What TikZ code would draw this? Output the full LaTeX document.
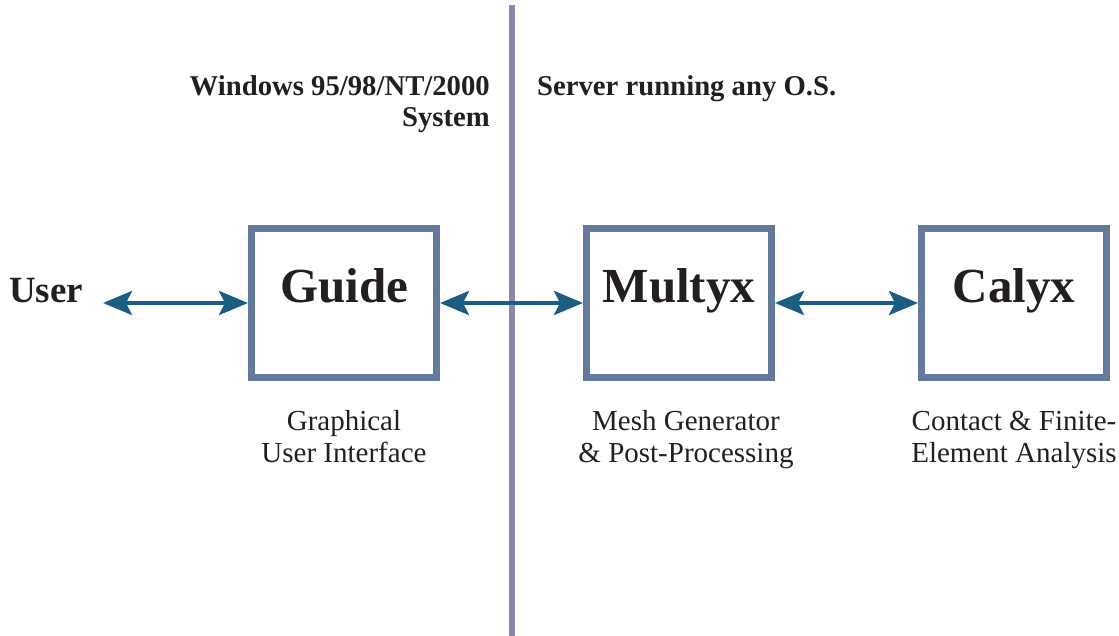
\documentclass[tikz,border=0pt]{standalone}
\usepackage{fontspec}
\setmainfont{Liberation Serif}
\usepackage{xcolor}
\usetikzlibrary{positioning,arrows.meta}

\definecolor{boxblue}{RGB}{100,122,155}
\definecolor{linkblue}{RGB}{27,94,130}
\definecolor{splitgray}{RGB}{139,135,176}
\definecolor{ink}{RGB}{35,31,32}

\begin{document}
\begin{tikzpicture}[x=1pt,y=-1pt,
  module/.style={draw=boxblue,line width=7pt,minimum width=185pt,minimum height=148pt,
    inner sep=0pt,text=ink,font=\fontsize{49}{49}\selectfont\bfseries,
    text height=24pt,text depth=24pt},
  caption/.style={text=ink,align=center,inner sep=0pt,anchor=base,
    font=\fontsize{29}{32}\selectfont},
  header/.style={text=ink,inner sep=0pt,font=\fontsize{28.7}{31}\selectfont\bfseries},
  link/.style={draw=linkblue,line width=4pt,
    {Stealth[length=29pt,width=24pt,inset=6pt]}-{Stealth[length=29pt,width=24pt,inset=6pt]}}]
  \useasboundingbox (0,0) rectangle (1119,636);
  % system split
  \draw[splitgray,line width=6pt] (512,5)--(512,636);
  \node[header,anchor=base east,align=right] (winhdr) at (490,127) {Windows 95/98/NT/2000\\System};
  \node[header,anchor=base west] (srvhdr) at (537,96) {Server running any O.S.};
  % modules
  \node[module] (guide) at (344,303) {Guide};
  \node[module,right=143pt of guide] (multyx) {Multyx};
  \node[module,right=143pt of multyx] (calyx) {Calyx};
  \node[text=ink,inner xsep=20pt,inner ysep=0pt,outer sep=0pt,text height=18pt,text depth=18pt,
    font=\fontsize{37}{37}\selectfont\bfseries,left=145pt of guide] (user) {User};
  \node[caption] (guidecap) at ([yshift=-82pt]guide.south) {Graphical\\User Interface};
  \node[caption] (multyxcap) at ([xshift=7pt,yshift=-82pt]multyx.south) {Mesh Generator\\\& Post-Processing};
  \node[caption] (calyxcap) at ([yshift=-82pt]calyx.south) {Contact \& Finite-\\Element Analysis};
  % links
  \draw[link] (user) -- (guide);
  \draw[link] (guide) -- (multyx);
  \draw[link] (multyx) -- (calyx);
\end{tikzpicture}
\end{document}
